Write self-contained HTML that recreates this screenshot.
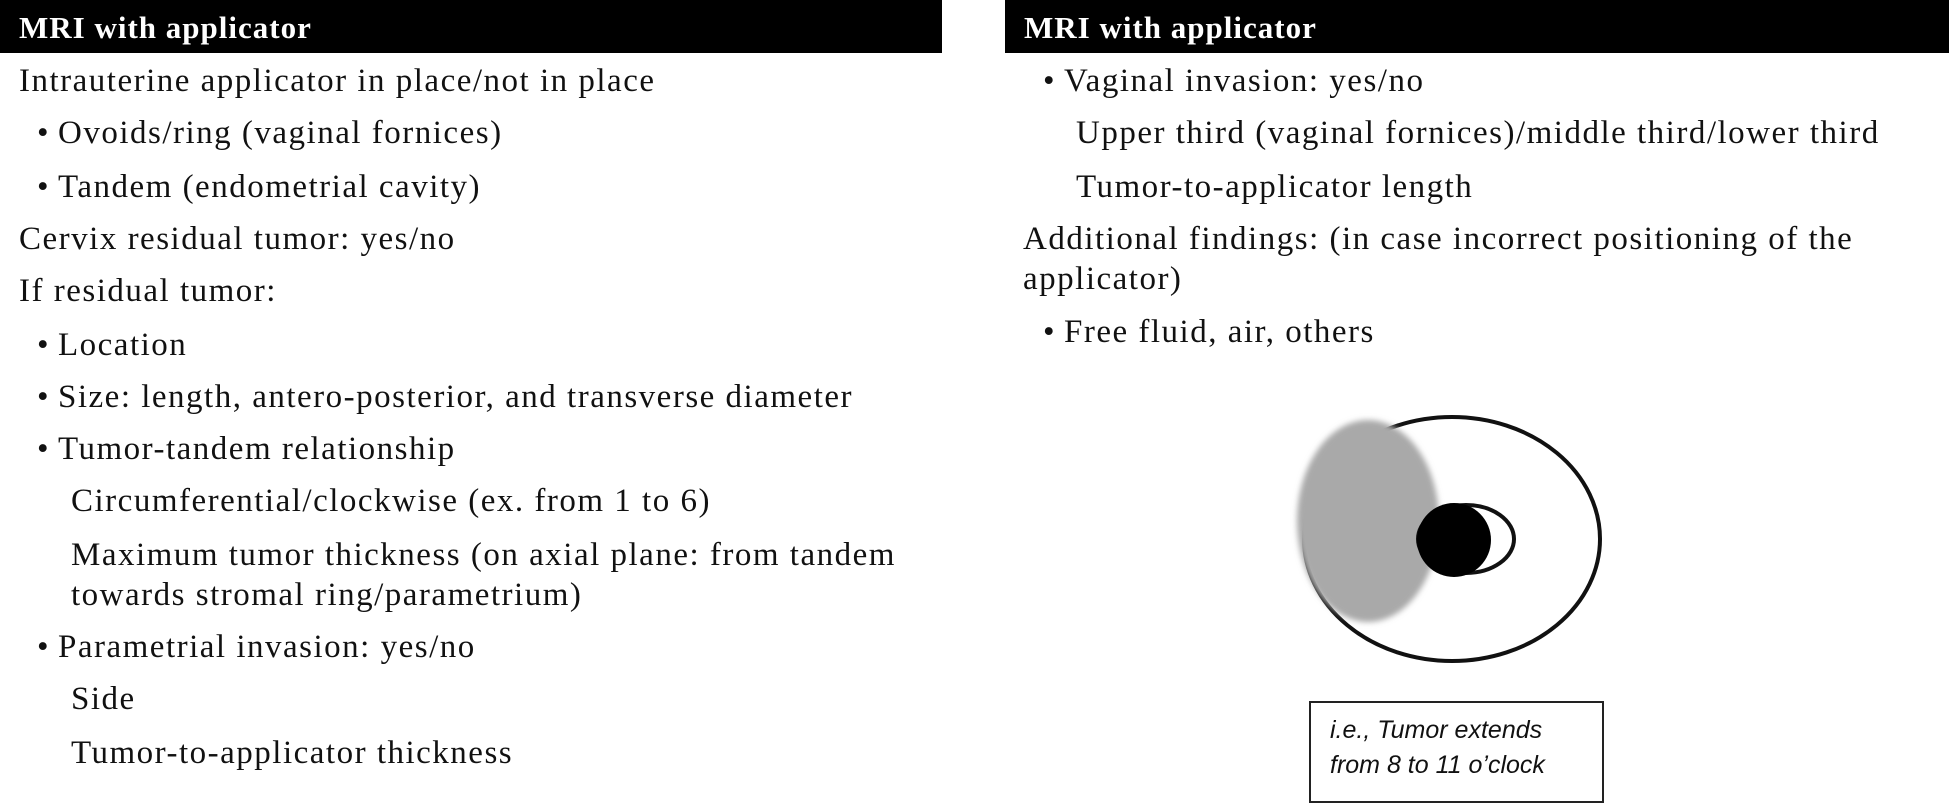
<!DOCTYPE html>
<html><head><meta charset="utf-8"><style>
body{margin:0;width:1949px;height:804px;background:#fff;position:relative;overflow:hidden;font-family:"Liberation Serif",serif;color:#111}
.h{position:absolute;top:0;height:53px;background:#000;color:#fff;font-weight:bold;font-size:31px;letter-spacing:1px;line-height:56px;padding-left:19px;box-sizing:border-box}
.t{position:absolute;font-size:33px;letter-spacing:1.5px;white-space:nowrap;line-height:36px;transform:translateY(-18px)}
.b::before{content:"•";position:absolute;left:-21px}
</style></head><body>
<div class="h" style="left:0;width:942px">MRI with applicator</div>
<div class="h" style="left:1005px;width:944px">MRI with applicator</div>

<div class="t" style="left:19px;top:81px">Intrauterine applicator in place/not in place</div>
<div class="t b" style="left:58px;top:133px">Ovoids/ring (vaginal fornices)</div>
<div class="t b" style="left:58px;top:187px">Tandem (endometrial cavity)</div>
<div class="t" style="left:19px;top:239px">Cervix residual tumor: yes/no</div>
<div class="t" style="left:19px;top:291px">If residual tumor:</div>
<div class="t b" style="left:58px;top:345px">Location</div>
<div class="t b" style="left:58px;top:397px">Size: length, antero-posterior, and transverse diameter</div>
<div class="t b" style="left:58px;top:449px">Tumor-tandem relationship</div>
<div class="t" style="left:71px;top:501px">Circumferential/clockwise (ex. from 1 to 6)</div>
<div class="t" style="left:71px;top:555px">Maximum tumor thickness (on axial plane: from tandem</div>
<div class="t" style="left:71px;top:595px">towards stromal ring/parametrium)</div>
<div class="t b" style="left:58px;top:647px">Parametrial invasion: yes/no</div>
<div class="t" style="left:71px;top:699px">Side</div>
<div class="t" style="left:71px;top:753px">Tumor-to-applicator thickness</div>

<div class="t b" style="left:1064px;top:81px">Vaginal invasion: yes/no</div>
<div class="t" style="left:1076px;top:133px">Upper third (vaginal fornices)/middle third/lower third</div>
<div class="t" style="left:1076px;top:187px">Tumor-to-applicator length</div>
<div class="t" style="left:1023px;top:239px">Additional findings: (in case incorrect positioning of the</div>
<div class="t" style="left:1023px;top:279px">applicator)</div>
<div class="t b" style="left:1064px;top:332px">Free fluid, air, others</div>

<svg style="position:absolute;left:0;top:0" width="1949" height="804">
<defs><filter id="bl" x="-20%" y="-20%" width="140%" height="140%"><feGaussianBlur stdDeviation="3"/></filter></defs>
<ellipse cx="1452" cy="539" rx="148" ry="122" fill="none" stroke="#111" stroke-width="4"/>
<ellipse cx="1368" cy="521" rx="71" ry="101" fill="#a9a9a9" filter="url(#bl)"/>
<ellipse cx="1466" cy="539" rx="48" ry="34" fill="none" stroke="#111" stroke-width="4"/>
<circle cx="1454" cy="540" r="37" fill="#000"/>
<rect x="1310" y="702" width="293" height="100" fill="#fff" stroke="#222" stroke-width="2"/>
<text x="1330" y="738" font-family="Liberation Sans, sans-serif" font-style="italic" font-size="25" fill="#111">i.e., Tumor extends</text>
<text x="1330" y="773" font-family="Liberation Sans, sans-serif" font-style="italic" font-size="25" fill="#111">from 8 to 11 o’clock</text>
</svg>
</body></html>
